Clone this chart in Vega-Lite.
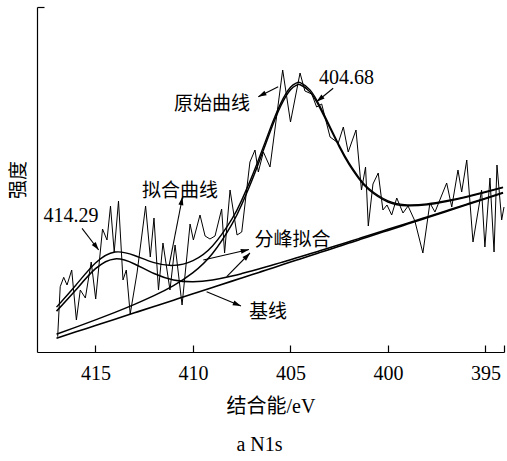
{
  "$schema": "https://vega.github.io/schema/vega-lite/v6.json",
  "width": 467,
  "height": 345,
  "autosize": {"type": "none"},
  "padding": {"left": 37, "top": 7, "right": 3, "bottom": 109},
  "config": {
    "view": {"stroke": null},
    "axis": {"grid": false, "domainColor": "black", "tickColor": "black", "labelColor": "black", "titleColor": "black", "domainWidth": 1.2, "tickWidth": 1.2}
  },
  "title": {"text": "a N1s", "orient": "bottom", "font": "Liberation Serif", "fontSize": 20, "fontWeight": "normal", "color": "black", "offset": 19, "dx": -11},
  "datasets": {
    "m": [
      {"e": 417, "b": 13.81, "c1": 40.87, "c2": 17.84, "f": 44.90},
      {"e": 416, "b": 20.15, "c1": 62.28, "c2": 24.89, "f": 67.02},
      {"e": 415, "b": 26.49, "c1": 83.31, "c2": 32.14, "f": 88.96},
      {"e": 414, "b": 32.83, "c1": 93.10, "c2": 39.67, "f": 99.94},
      {"e": 413, "b": 39.17, "c1": 88.04, "c2": 47.64, "f": 96.51},
      {"e": 412, "b": 45.51, "c1": 78.50, "c2": 56.32, "f": 89.31},
      {"e": 411, "b": 51.85, "c1": 72.04, "c2": 66.39, "f": 86.58},
      {"e": 410, "b": 58.19, "c1": 70.21, "c2": 79.42, "f": 91.44},
      {"e": 409, "b": 64.53, "c1": 72.03, "c2": 98.50, "f": 106.00},
      {"e": 408, "b": 70.87, "c1": 75.99, "c2": 127.91, "f": 133.03},
      {"e": 407.5, "b": 74.04, "c1": 78.41, "c2": 147.54, "f": 151.91},
      {"e": 407, "b": 77.21, "c1": 81.01, "c2": 170.57, "f": 174.37},
      {"e": 406.5, "b": 80.38, "c1": 83.72, "c2": 196.08, "f": 199.42},
      {"e": 406, "b": 83.55, "c1": 86.52, "c2": 222.45, "f": 225.42},
      {"e": 405.5, "b": 86.72, "c1": 89.38, "c2": 246.02, "f": 248.68},
      {"e": 405, "b": 89.89, "c1": 92.29, "c2": 262.29, "f": 264.69},
      {"e": 404.68, "b": 91.92, "c1": 94.17, "c2": 266.92, "f": 269.17},
      {"e": 404.5, "b": 93.06, "c1": 95.23, "c2": 267.26, "f": 269.43},
      {"e": 404, "b": 96.23, "c1": 98.21, "c2": 260.13, "f": 262.11},
      {"e": 403.5, "b": 99.40, "c1": 101.21, "c2": 244.40, "f": 246.21},
      {"e": 403, "b": 102.57, "c1": 104.23, "c2": 224.87, "f": 226.53},
      {"e": 402.5, "b": 105.74, "c1": 107.27, "c2": 205.14, "f": 206.67},
      {"e": 402, "b": 108.91, "c1": 110.32, "c2": 187.68, "f": 189.09},
      {"e": 401.5, "b": 112.08, "c1": 113.39, "c2": 173.38, "f": 174.69},
      {"e": 401, "b": 115.25, "c1": 116.46, "c2": 162.52, "f": 163.73},
      {"e": 400, "b": 121.59, "c1": 122.65, "c2": 150.02, "f": 151.08},
      {"e": 399, "b": 127.93, "c1": 128.85, "c2": 146.25, "f": 147.17},
      {"e": 398, "b": 134.27, "c1": 135.09, "c2": 147.23, "f": 148.05},
      {"e": 397, "b": 140.61, "c1": 141.34, "c2": 150.47, "f": 151.20},
      {"e": 396, "b": 146.95, "c1": 147.60, "c2": 154.76, "f": 155.41},
      {"e": 395, "b": 153.29, "c1": 153.88, "c2": 159.66, "f": 160.25},
      {"e": 394.1, "b": 158.99, "c1": 159.52, "c2": 164.37, "f": 164.90}
    ],
    "r": [
      {"e": 416.94, "h": 15.3}, {"e": 416.81, "h": 65.3}, {"e": 416.63, "h": 74.7}, {"e": 416.46, "h": 67},
      {"e": 416.22, "h": 82}, {"e": 415.98, "h": 32}, {"e": 415.78, "h": 62}, {"e": 415.52, "h": 54},
      {"e": 415.22, "h": 90}, {"e": 414.99, "h": 53}, {"e": 414.64, "h": 123}, {"e": 414.41, "h": 112},
      {"e": 414.23, "h": 146}, {"e": 414.04, "h": 100}, {"e": 413.82, "h": 151}, {"e": 413.59, "h": 72},
      {"e": 413.42, "h": 82}, {"e": 413.22, "h": 38}, {"e": 412.87, "h": 79}, {"e": 412.43, "h": 146},
      {"e": 412.19, "h": 95}, {"e": 412.00, "h": 134}, {"e": 411.77, "h": 62}, {"e": 411.54, "h": 109},
      {"e": 411.18, "h": 62}, {"e": 410.92, "h": 107}, {"e": 410.56, "h": 47}, {"e": 410.15, "h": 128},
      {"e": 409.98, "h": 112}, {"e": 409.64, "h": 137}, {"e": 409.38, "h": 116}, {"e": 409.13, "h": 113},
      {"e": 408.87, "h": 116}, {"e": 408.53, "h": 143}, {"e": 408.38, "h": 99}, {"e": 408.10, "h": 162},
      {"e": 407.74, "h": 117}, {"e": 407.50, "h": 120}, {"e": 407.08, "h": 190}, {"e": 406.82, "h": 202},
      {"e": 406.65, "h": 180}, {"e": 406.39, "h": 200}, {"e": 406.05, "h": 185}, {"e": 405.40, "h": 282},
      {"e": 405.00, "h": 230}, {"e": 404.51, "h": 279}, {"e": 404.26, "h": 261}, {"e": 403.91, "h": 258},
      {"e": 403.66, "h": 245}, {"e": 403.40, "h": 248}, {"e": 402.97, "h": 215}, {"e": 402.55, "h": 209},
      {"e": 402.29, "h": 225}, {"e": 402.04, "h": 200}, {"e": 401.64, "h": 222}, {"e": 401.36, "h": 162},
      {"e": 401.15, "h": 185}, {"e": 401.01, "h": 126}, {"e": 400.77, "h": 168}, {"e": 400.50, "h": 179},
      {"e": 400.26, "h": 142}, {"e": 400.05, "h": 147}, {"e": 399.81, "h": 137}, {"e": 399.55, "h": 154},
      {"e": 399.23, "h": 139}, {"e": 398.97, "h": 146}, {"e": 398.62, "h": 131}, {"e": 398.21, "h": 99},
      {"e": 397.85, "h": 149}, {"e": 397.59, "h": 140}, {"e": 396.99, "h": 169}, {"e": 396.73, "h": 145},
      {"e": 396.41, "h": 182}, {"e": 396.22, "h": 160}, {"e": 395.96, "h": 192}, {"e": 395.64, "h": 110},
      {"e": 395.20, "h": 162}, {"e": 395.03, "h": 105}, {"e": 394.77, "h": 174}, {"e": 394.56, "h": 100},
      {"e": 394.41, "h": 187}, {"e": 394.17, "h": 132}, {"e": 394.05, "h": 145}
    ],
    "a": [
      {"id": "A1", "e": 405.63, "h": 265.3, "e2": 406.65, "h2": 255.3},
      {"id": "A2", "e": 402.81, "h": 263.7, "e2": 403.66, "h2": 250.3},
      {"id": "A3", "e": 415.69, "h": 123.7, "e2": 414.84, "h2": 102},
      {"id": "A4", "e": 411.23, "h": 86, "e2": 410.54, "h2": 155},
      {"id": "A5", "e": 409.47, "h": 92, "e2": 407.13, "h2": 102.5},
      {"id": "A6", "e": 408.27, "h": 75.3, "e2": 407.08, "h2": 99},
      {"id": "A7", "e": 409.30, "h": 60.3, "e2": 407.54, "h2": 46}
    ],
    "hd": [
      {"id": "A1", "e": 406.47, "h": 257.1, "ang": 243.4},
      {"id": "A2", "e": 403.50, "h": 252.8, "ang": 231.1},
      {"id": "A3", "e": 414.96, "h": 105.2, "ang": 142.4},
      {"id": "A4", "e": 410.58, "h": 151.1, "ang": 11.1},
      {"id": "A5", "e": 407.33, "h": 101.6, "ang": 77.1},
      {"id": "A6", "e": 407.22, "h": 96.1, "ang": 44.5},
      {"id": "A7", "e": 407.73, "h": 47.5, "ang": 112.6}
    ],
    "lbc": [
      {"t": "原始曲线", "e": 409.03, "h": 248},
      {"t": "拟合曲线", "e": 410.67, "h": 161},
      {"t": "分峰拟合", "e": 404.90, "h": 112},
      {"t": "基线", "e": 406.15, "h": 40}
    ],
    "lbn": [
      {"t": "404.68", "e": 402.13, "h": 274.5},
      {"t": "414.29", "e": 416.26, "h": 136}
    ]
  },
  "encoding": {
    "x": {
      "field": "e", "type": "quantitative",
      "scale": {"domain": [394.05, 418], "reverse": true, "nice": false, "zero": false},
      "axis": {
        "values": [415, 410, 405, 400, 395, 394.05],
        "labelExpr": "datum.value % 5 == 0 ? datum.label : ''",
        "tickSize": -7, "labelPadding": 18,
        "labelFont": "Liberation Serif", "labelFontSize": 20, "labelFlush": false, "labelOverlap": false,
        "title": "结合能/eV", "titleFont": "Liberation Serif, Noto Sans CJK SC", "titleFontSize": 20,
        "titleFontWeight": "normal", "titlePadding": 13
      }
    },
    "y": {
      "field": "h", "type": "quantitative",
      "scale": {"domain": [0, 345], "nice": false, "zero": false},
      "axis": {
        "values": [345], "labels": false, "tickSize": -7,
        "title": "强度", "titleFont": "Noto Sans CJK SC", "titleFontSize": 19,
        "titleFontWeight": "normal", "titlePadding": 8
      }
    }
  },
  "layer": [
    {
      "data": {"name": "m"},
      "transform": [{"fold": ["b", "c1", "c2", "f"], "as": ["s", "h"]}],
      "mark": {"type": "line", "interpolate": "natural", "color": "black"},
      "encoding": {
        "detail": {"field": "s", "type": "nominal"},
        "strokeWidth": {"field": "s", "type": "nominal", "scale": {"domain": ["b", "c1", "c2", "f"], "range": [1.6, 1.4, 1.4, 2.4]}, "legend": null}
      }
    },
    {
      "data": {"name": "r"},
      "mark": {"type": "line", "color": "black", "strokeWidth": 1},
      "encoding": {}
    },
    {
      "data": {"name": "a"},
      "mark": {"type": "rule", "color": "black", "strokeWidth": 1.1},
      "encoding": {"x2": {"field": "e2"}, "y2": {"field": "h2"}}
    },
    {
      "data": {"name": "hd"},
      "mark": {"type": "point", "shape": "M0,-1L0.6,1L-0.6,1Z", "filled": true, "color": "black", "size": 70, "opacity": 1},
      "encoding": {"angle": {"field": "ang", "type": "quantitative", "scale": null}}
    },
    {
      "data": {"name": "lbc"},
      "mark": {"type": "text", "font": "Noto Sans CJK SC", "fontSize": 19, "color": "black", "align": "center", "baseline": "middle"},
      "encoding": {"text": {"field": "t"}}
    },
    {
      "data": {"name": "lbn"},
      "mark": {"type": "text", "font": "Liberation Serif", "fontSize": 20, "color": "black", "align": "center", "baseline": "middle"},
      "encoding": {"text": {"field": "t"}}
    }
  ]
}
